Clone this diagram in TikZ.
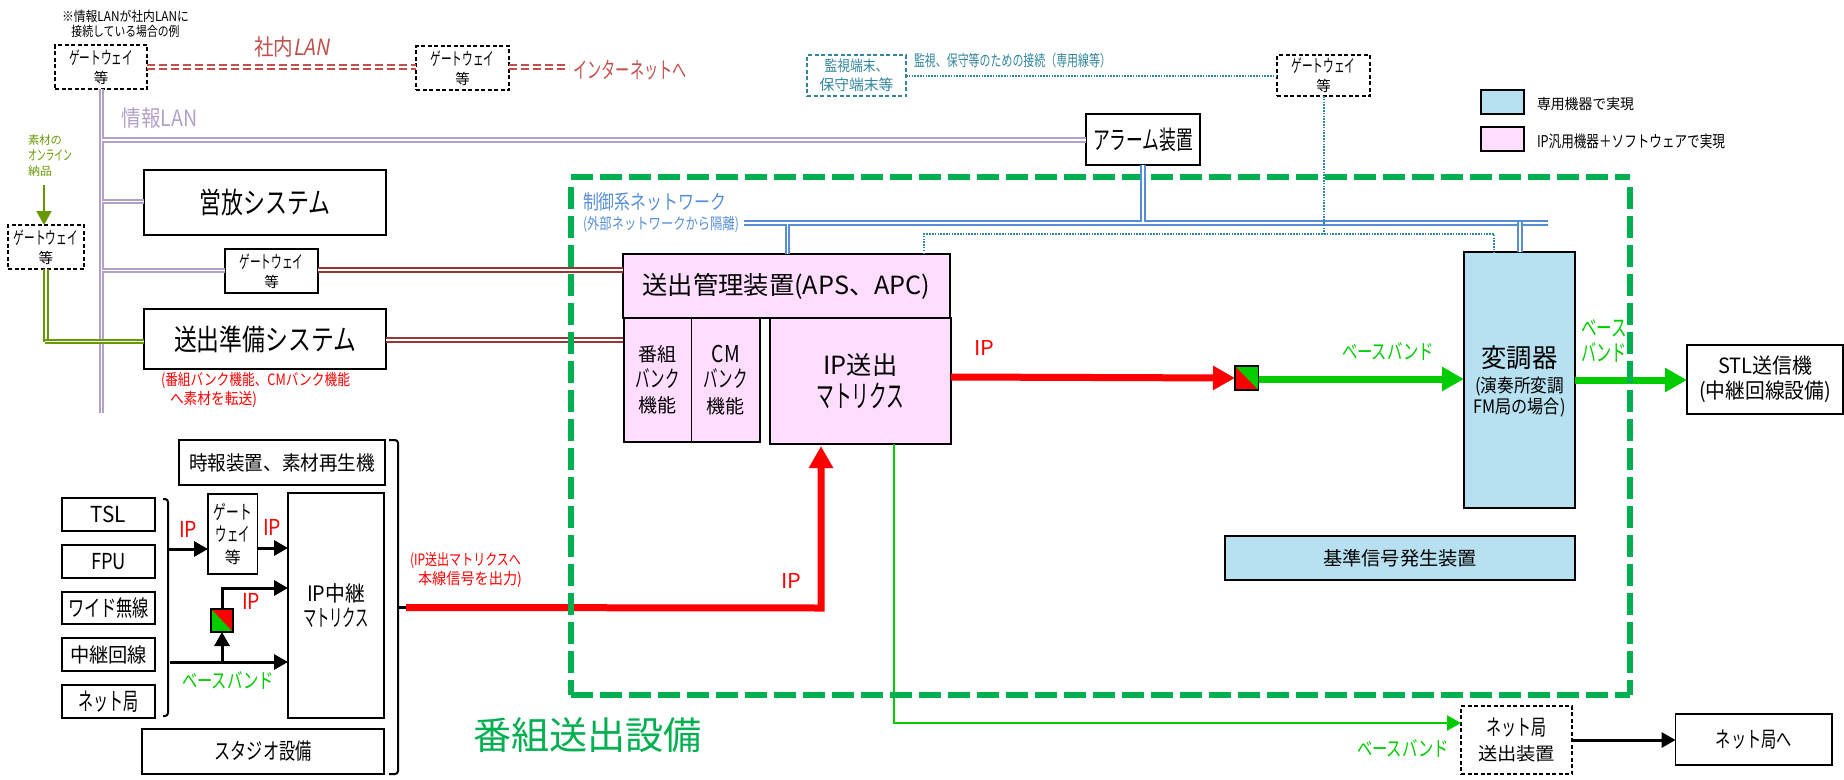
\documentclass[tikz,border=0pt]{standalone}
\usepackage{fontspec}
\usepackage{graphicx}
\setmainfont{Noto Sans CJK JP}[ItalicFont=Noto Sans CJK JP,ItalicFeatures={FakeSlant=0.2}]
\usetikzlibrary{arrows.meta}
\definecolor{pinkfill}{HTML}{FFDDFF}
\definecolor{bluefill}{HTML}{B7E0F0}
\definecolor{lanred}{HTML}{C0504D}
\definecolor{lanpurple}{HTML}{B2A1C7}
\definecolor{darkred}{HTML}{953735}
\definecolor{netblue}{HTML}{558ED5}
\definecolor{teal}{HTML}{31859C}
\definecolor{olive}{HTML}{669900}
\definecolor{framegreen}{HTML}{00B050}
\definecolor{bbgreen}{HTML}{00CC00}
\newcommand{\W}[2]{\resizebox{#1pt}{\height}{#2}}
\newcommand{\K}[2]{\resizebox{#1pt}{1.22\height}{#2}}
\newcommand{\M}[2]{\resizebox{#1pt}{1.12\height}{#2}}
\newcommand{\F}[2]{\fontsize{#1pt}{#2pt}\selectfont}
\newcommand{\bx}[7][]{%
  \pgfmathsetmacro\bw{#5-#3}\pgfmathsetmacro\bh{#6-#4}%
  \node[#1,anchor=north west,minimum width=\bw pt,minimum height=\bh pt] (#2) at (#3,#4) {#7};}
\tikzset{
  base/.style={inner sep=0pt,outer sep=0pt,align=center,text=black},
  box/.style={base,draw=black,line width=1.7pt},
  dbox/.style={base,draw=black,line width=1.5pt,dash pattern=on 4pt off 2.5pt},
  tbox/.style={base,draw=teal,line width=1.5pt,dash pattern=on 4pt off 2.5pt,text=teal},
  pink/.style={box,fill=pinkfill},
  cyanb/.style={box,fill=bluefill},
  txt/.style={inner sep=0pt,outer sep=0pt,align=center},
  dbl/.style={line width=2.2pt,double=white,double distance=1.5pt,draw=#1},
  bigarrow/.style={line width=7pt,draw=#1,-{Triangle[width=23pt,length=22pt,color=#1]}},
  blackarrow/.style={line width=3pt,draw=black,-{Triangle[width=15pt,length=14pt]}},
  dots/.style={draw=teal,line width=1.5pt,dash pattern=on 1.5pt off 1.3pt},
  frame/.style={draw=framegreen,line width=6pt,dash pattern=on 22pt off 7pt},
}
\begin{document}
\begin{tikzpicture}[x=1pt,y=-1pt]
\useasboundingbox (0,0) rectangle (1844,779);
% boxes
\bx[dbox,font=\F{14.5}{19}]{gwa}{55}{45}{147}{89}{\K{64}{ゲートウェイ}\\等}
\bx[dbox,font=\F{14.5}{19}]{gwb}{416}{46}{509}{90}{\K{64}{ゲートウェイ}\\等}
\bx[tbox,font=\F{15}{19}]{mon}{807}{55}{906}{96}{\W{64}{監視端末、}\\\W{74}{保守端末等}}
\bx[dbox,font=\F{14.5}{19}]{gwc}{1277}{55}{1370}{96}{\K{64}{ゲートウェイ}\\等}
\bx[box,font=\F{21}{27}]{alarm}{1086}{114}{1200}{165}{\K{100}{アラーム装置}}
\bx[box,font=\F{26}{32}]{eiho}{144}{170}{386}{235}{\M{131}{営放システム}}
\bx[dbox,font=\F{14.5}{19}]{gwd}{8}{225}{84}{269}{\K{64}{ゲートウェイ}\\等}
\bx[box,font=\F{14.5}{19}]{gwe}{225}{249}{318}{293}{\K{64}{ゲートウェイ}\\等}
\bx[box,font=\F{26}{32}]{junbi}{144}{309}{386}{369}{\M{182}{送出準備システム}}
\bx[pink,font=\F{25}{32}]{aps}{623}{254}{950}{318}{\W{288}{送出管理装置(APS、APC)}}
\bx[pink,line width=1.5pt,font=\F{19}{25.5}]{bank}{624}{318}{691.5}{442}{番組\\\K{44}{バンク}\\機能}
\bx[pink,line width=1.5pt,font=\F{19}{25.5}]{cm}{691.5}{318}{760}{442}{\K{28}{CM}\\\K{44}{バンク}\\機能}
\bx[pink,font=\F{25}{33}]{ipsend}{770}{318}{951}{444}{\W{74}{IP送出}\\\K{88}{マトリクス}}
\bx[cyanb]{mod}{1464}{252}{1575}{508}{}
\bx[box,font=\F{21}{25}]{stl}{1687}{345}{1843}{414}{\W{94}{STL送信機}\\\W{132}{(中継回線設備)}}
\bx[cyanb,font=\F{19}{24}]{ref}{1225}{536}{1575}{580}{\W{154}{基準信号発生装置}}
\bx[dbox,font=\F{18}{25}]{nets}{1461}{706}{1572}{774}{\K{60}{ネット局}\\\W{77}{送出装置}}
\bx[box,font=\F{18}{24}]{netto}{1675.6}{714}{1832}{765}{\K{76}{ネット局へ}}
\bx[cyanb]{lega}{1481}{90}{1524}{114}{}
\bx[pink]{legb}{1481}{127}{1524}{151}{}
\bx[box,font=\F{20}{25}]{jiho}{179}{440}{385}{485}{\W{186}{時報装置、素材再生機}}
\bx[box,font=\F{22}{25}]{tsl}{62}{498}{155}{531}{\W{35}{TSL}}
\bx[box,font=\F{22}{25}]{fpu}{62}{545}{155}{578}{\W{35}{FPU}}
\bx[box,font=\F{20}{25}]{wide}{62}{592}{155}{624}{\M{81}{ワイド無線}}
\bx[box,font=\F{20}{25}]{chukei}{62}{638}{155}{671}{\W{77}{中継回線}}
\bx[box,font=\F{20}{25}]{netk}{62}{685}{155}{718}{\K{60}{ネット局}}
\bx[box,line width=1.5pt,font=\F{16}{22}]{gwf}{208}{494}{257.5}{574}{\K{38}{ゲート}\\\K{34}{ウェイ}\\等}
\bx[box,font=\F{19}{25}]{ipmx}{288}{493}{384}{718}{\M{58}{IP中継}\\\K{66}{マトリクス}}
\bx[box,font=\F{20}{25}]{studio}{142}{729}{384}{774}{\M{97}{スタジオ設備}}
% small converter squares
\bx[box,fill=red]{sqa}{1235}{366}{1258.5}{390}{}
\bx[box,fill=red]{sqb}{211}{609}{233}{632}{}
\fill[bbgreen] (sqa.north west) -- (sqa.north east) -- (sqa.south east) -- cycle;
\fill[bbgreen] (sqb.north west) -- (sqb.south west) -- (sqb.south east) -- cycle;
\draw[black,line width=1.7pt] (sqa.north west) rectangle (sqa.south east);
\draw[black,line width=1.7pt] (sqb.north west) rectangle (sqb.south east);
% free coordinates
\coordinate (nettail) at (569,67);
\coordinate (lanbottom) at (101.5,413);
\coordinate (srcA) at (44,185);
\coordinate (brk) at (168,549);
\coordinate (bbstart) at (170,662);
\coordinate (bbjoin) at (222,662);
\coordinate (brkB) at (398,607.5);
\coordinate (redstart) at (406,607.5);
\coordinate (redcorner) at (821,608);
\coordinate (blueleft) at (744,223);
\coordinate (blueright) at (1548,223);
\coordinate (dotleft) at (924,234);
\coordinate (dotright) at (1494,234);
\coordinate (dotjoin) at (1324,234);
\coordinate (oliveturn) at (46.2,341.5);
% brackets
\draw[black,line width=2pt,rounded corners=3pt] (163,499) -- (168,499) -- (168,716) -- (163,716);
\draw[black,line width=2pt,rounded corners=3pt] (389,440) -- (398,440) -- (398,774) -- (389,774);
\draw[black,line width=2.5pt] (brkB) -- (redstart);
% LAN lines
\draw[dbl=lanred,dash pattern=on 8pt off 4pt] (gwa.east |- 0,67) -- (gwb.west |- 0,67);
\draw[dbl=lanred,dash pattern=on 8pt off 4pt] (gwb.east |- 0,67) -- (nettail);
\draw[dbl=lanpurple] (lanbottom) -- (lanbottom |- gwa.south);
\draw[dbl=lanpurple] (101.5,140) -- (alarm.west |- 0,140);
\draw[dbl=lanpurple] (101.5,201.5) -- (eiho.west |- 0,201.5);
\draw[dbl=lanpurple] (101.5,270.5) -- (gwe.west |- 0,270.5);
\draw[dbl=darkred] (gwe.east |- 0,270) -- (aps.west |- 0,270);
\draw[dbl=darkred] (junbi.east |- 0,340) -- (aps.west |- 0,340);
\draw[line width=2pt,draw=olive,-{Triangle[width=15pt,length=14pt,color=olive]}] (srcA) -- (srcA |- gwd.north);
\draw[dbl=olive] (gwd.south -| oliveturn) -- (oliveturn);
\draw[dbl=olive] (44.5,341.5) -- (junbi.west |- 0,341.5);
% signal arrows
\draw[bigarrow=red] (redstart) -- (redcorner) -- ++(0,-162);
\draw[bigarrow=red] (ipsend.east |- 0,377) -- (sqa.west |- 0,378);
\draw[bigarrow=bbgreen] (sqa.east |- 0,379) -- (mod.west |- 0,379);
\draw[bigarrow=bbgreen] (mod.east |- 0,380) -- (stl.west |- 0,380);
\draw[line width=2.4pt,draw=bbgreen,-{Triangle[width=15pt,length=14pt,color=bbgreen]}] (894,444) -- (894,723) -- (nets.west |- 0,723);
\draw[blackarrow] (nets.east |- 0,740) -- (netto.west |- 0,740);
\draw[blackarrow] (brk) -- (gwf.west |- brk);
\draw[blackarrow] (gwf.east |- 0,548) -- (ipmx.west |- 0,548);
\draw[blackarrow] (bbstart) -- (ipmx.west |- bbstart);
\draw[blackarrow] (bbjoin) -- (sqb.south);
\draw[blackarrow] (sqb.north) -- (sqb.north |- 0,588) -- (ipmx.west |- 0,588);
% green frame
\draw[frame] (571,177) -- (1630,177) (1630,187) -- (1630,695) (571,187) -- (571,695) (571,695) -- (1630,695);
% control network
\draw[line width=2.2pt,double=white,double distance=1.8pt,draw=netblue] (blueleft) -- (blueright);
\draw[dbl=netblue,line width=1.9pt,double distance=2pt] (alarm.south -| 1143,0) -- (1143,222);
\draw[dbl=netblue,line width=1.9pt] (aps.north -| 787.5,0) -- (787.5,224);
\draw[dbl=netblue,line width=1.9pt] (mod.north -| 1520,0) -- (1520,222);
\draw[dots] (mon.east |- 0,76) -- (gwc.west |- 0,76);
\draw[dots] (gwc.south -| dotjoin) -- (dotjoin);
\draw[dots] (aps.north -| dotleft) -- (dotleft) -- (dotright) -- (mod.north -| dotright);
% labels
\node[txt,font=\F{26}{32}] (lmoda) at (1519.5,358) {\W{76}{変調器}};
\node[txt,font=\F{18.5}{21.5}] (lmodb) at (1519.5,397) {\W{89}{(演奏所変調}\\\W{92}{FM局の場合)}};
\node[txt,font=\F{12}{15}] (note) at (125.5,23.5) {\M{127}{※情報LANが社内LANに}\\\M{108}{接続している場合の例}};
\node[txt,font=\F{20}{24},text=lanred] (lshanai) at (292,47) {\M{76}{社内\textit{LAN}}};
\node[txt,font=\F{18.5}{24},text=lanred] (linet) at (630,70) {\K{113}{インターネットへ}};
\node[txt,font=\F{20}{24},text=lanpurple] (ljoho) at (159.5,118) {\M{76}{情報LAN}};
\node[txt,anchor=north west,align=left,font=\F{11.5}{15.5},text=olive] (lsozai) at (28,135) {\W{34}{素材の}\\\K{44}{オンライン}\\\W{24}{納品}};
\node[txt,anchor=west,align=left,font=\F{14}{19},text=red] (lbank) at (161,389.5) {\M{189}{(番組バンク機能、CMバンク機能}\\\hspace{9pt}\M{87}{へ素材を転送)}};
\node[txt,anchor=west,font=\F{18}{24},text=netblue] (lseigyo) at (583,202) {\M{143}{制御系ネットワーク}};
\node[txt,anchor=west,font=\F{14}{18},text=netblue] (lgaibu) at (583,224) {\M{156}{(外部ネットワークから隔離)}};
\node[txt,anchor=west,font=\F{14}{18},text=teal] (lkanshi) at (914,61) {\M{197}{監視、保守等のための接続（専用線等）}};
\node[txt,anchor=west,font=\F{14.5}{18}] (llega) at (1537,104) {\W{97}{専用機器で実現}};
\node[txt,anchor=west,font=\F{14.5}{18}] (llegb) at (1537,141) {\M{188}{IP汎用機器＋ソフトウェアで実現}};
\node[txt,font=\F{20.5}{24},text=red] (lipa) at (984,348) {\W{20}{IP}};
\node[txt,font=\F{20.5}{24},text=red] (lipb) at (791,581) {\W{20}{IP}};
\node[txt,font=\F{22}{24},text=red] (lipc) at (188,529) {\W{18}{IP}};
\node[txt,font=\F{22}{24},text=red] (lipd) at (272,527) {\W{18}{IP}};
\node[txt,font=\F{22}{24},text=red] (lipe) at (251,601) {\W{18}{IP}};
\node[txt,font=\F{17}{22},text=bbgreen] (lbba) at (1388,351) {\K{92}{ベースバンド}};
\node[txt,anchor=north west,align=left,font=\F{19}{25},text=bbgreen] (lbbb) at (1581,320) {\K{46}{ベース}\\\K{46}{バンド}};
\node[txt,font=\F{17}{22},text=bbgreen] (lbbc) at (1403,748) {\K{92}{ベースバンド}};
\node[txt,font=\F{17}{22},text=bbgreen] (lbbd) at (228,680) {\K{92}{ベースバンド}};
\node[txt,anchor=west,align=left,font=\F{14}{18.5},text=red] (lhonsen) at (410,570) {\M{111}{(IP送出マトリクスへ}\\\hspace{8pt}\M{104}{本線信号を出力)}};
\node[txt,font=\F{38}{44},text=framegreen] (ltitle) at (587.5,735) {\W{229}{番組送出設備}};
\end{tikzpicture}
\end{document}
